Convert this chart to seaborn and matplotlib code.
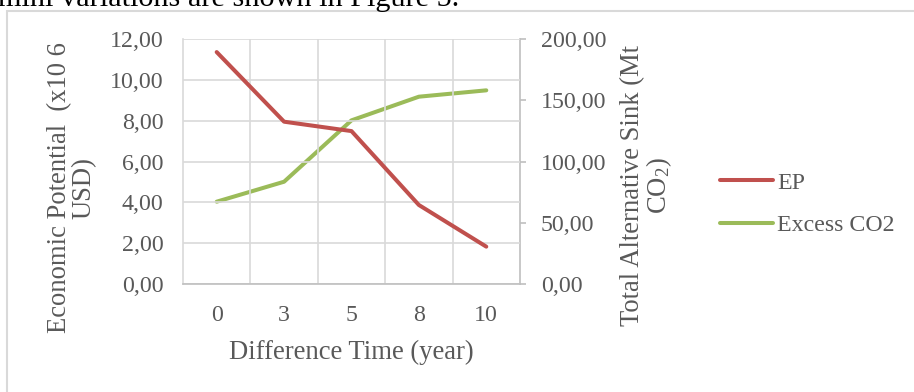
import matplotlib
matplotlib.use('Agg')
import matplotlib.pyplot as plt
import pandas as pd
import seaborn as sns
from matplotlib.patches import Rectangle
from matplotlib.lines import Line2D

# Data
years = ['0', '3', '5', '8', '10']
ep = [11.36, 7.95, 7.49, 3.87, 1.83]             # Economic Potential (x10 6 USD)
excess_co2 = [67.2, 83.5, 133.6, 152.9, 158.1]  # Total Alternative Sink (Mt CO2)
left_ticks = [0, 2, 4, 6, 8, 10, 12]
right_ticks = [0, 50, 100, 150, 200]

df = pd.DataFrame({'pos': range(len(years)), 'EP': ep, 'Excess CO2': excess_co2})

sns.set_theme(style='white')
plt.rcParams['font.family'] = ['Liberation Serif', 'DejaVu Serif']
plt.rcParams['mathtext.fontset'] = 'custom'
plt.rcParams['mathtext.rm'] = 'Liberation Serif'
plt.rcParams['mathtext.it'] = 'Liberation Serif'
plt.rcParams['lines.solid_capstyle'] = 'round'
plt.rcParams['lines.solid_joinstyle'] = 'round'

text_col = '#595959'
grid_col = '#D9D9D9'
axis_col = '#BFBFBF'
red = '#C0504D'
green = '#9BBB59'
tick_fs = 17.2
title_fs = 19.2

fig = plt.figure(figsize=(9.14, 3.92), dpi=100)
ax = fig.add_axes([0.2002, 0.2755, 0.3687, 0.625])
ax2 = ax.twinx()

sns.lineplot(data=df, x='pos', y='EP', ax=ax, color=red, lw=2.9, sort=False)
sns.lineplot(data=df, x='pos', y='Excess CO2', ax=ax2, color=green, lw=2.9, sort=False)
ax.set_zorder(ax2.get_zorder() + 1)
ax.patch.set_visible(False)

ax.set_xlim(-0.5, len(years) - 0.5)
ax.set_ylim(0, 12)
ax2.set_ylim(0, 200)

# ticks and labels
ax.set_xticks(range(len(years)))
ax.set_xticklabels(years)
ax.set_yticks(left_ticks)
ax.set_yticklabels([f'{v:.2f}'.replace('.', ',') for v in left_ticks])
ax2.set_yticks(right_ticks)
ax2.set_yticklabels([f'{v:.2f}'.replace('.', ',') for v in right_ticks])

ax.tick_params(axis='x', length=0, pad=15, labelsize=tick_fs, colors=text_col)
ax.tick_params(axis='y', length=0, pad=14, labelsize=tick_fs, colors=text_col)
ax2.tick_params(axis='y', length=4, width=1.2, pad=11, labelsize=tick_fs,
                colors=text_col)
ax2.tick_params(axis='y', color=axis_col)

# horizontal gridlines at the left ticks, vertical ones between categories
ax.grid(axis='y', color=grid_col, lw=1.2)
ax.grid(axis='x', visible=False)
ax2.grid(False)
for i in range(len(years) - 1):
    ax.axvline(i + 0.5, color=grid_col, lw=1.2, zorder=1)

for a in (ax, ax2):
    a.spines['top'].set_visible(False)
    a.spines['left'].set_color(grid_col)
    a.spines['right'].set_color(axis_col)
    a.spines['bottom'].set_color(axis_col)
    for s in a.spines.values():
        s.set_linewidth(1.2)
ax.spines['right'].set_visible(False)
ax2.spines['left'].set_visible(False)
ax2.spines['bottom'].set_visible(False)

ax.set_xlabel('Difference Time (year)', fontsize=title_fs, color=text_col, labelpad=10)
ax.set_ylabel('')
ax2.set_ylabel('')
fig.text(72 / 914, 1 - 188 / 392, 'Economic Potential  (x10 6\nUSD)', rotation=90,
         ha='center', va='center', fontsize=title_fs, color=text_col, linespacing=1.0,
         multialignment='center')
fig.text(647 / 914, 1 - 186 / 392, 'Total Alternative Sink (Mt\nCO$_2$)', rotation=90,
         ha='center', va='center', fontsize=title_fs, color=text_col, linespacing=1.0,
         multialignment='center')

handles = [Line2D([], [], color=red, lw=2.9), Line2D([], [], color=green, lw=2.9)]
fig.legend(handles, ['EP', 'Excess CO2'], loc='center left',
           bbox_to_anchor=(720 / 914, 1 - 204 / 392), frameon=False, fontsize=tick_fs,
           handlelength=2.2, handletextpad=0.2, labelspacing=0.85,
           borderpad=0, borderaxespad=0, labelcolor=text_col)

# chart frame and the clipped line of document text above it
fig.patches.append(Rectangle((7 / 914, -0.1), 1.2, 1 - 11 / 392 + 0.1,
                             transform=fig.transFigure, fill=False,
                             edgecolor=grid_col, lw=1.5))
fig.text(-2 / 914, 1 - 6 / 392, 'mini variations are shown in Figure 5.',
         ha='left', va='baseline', fontsize=21.8, color='black')

fig.savefig('out.png', dpi=100)
